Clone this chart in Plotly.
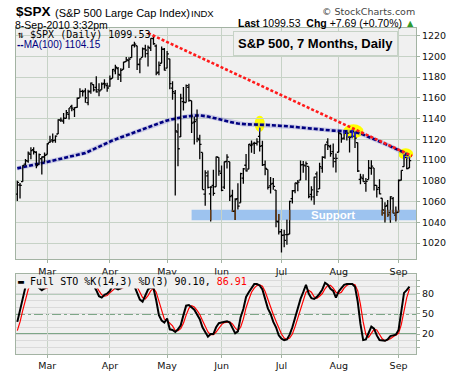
import math
import pandas as pd
import plotly.graph_objects as go

# ---------------- data ----------------
holidays = ["2010-02-15", "2010-04-02", "2010-05-31", "2010-07-05", "2010-09-06"]
dates = [d for d in pd.bdate_range("2010-02-11", "2010-09-08")
         if d.strftime("%Y-%m-%d") not in holidays]

opens = [1067.10, 1075.95, 1079.13, 1096.14, 1099.03, 1105.49, 1110.00, 1107.49, 1095.89, 1101.24, 1103.10,
         1105.36, 1117.01, 1119.36, 1119.12, 1125.12, 1138.40, 1137.56, 1140.22, 1143.96, 1151.71, 1148.53,
         1150.83, 1159.94, 1166.13, 1166.68, 1155.35, 1166.47, 1172.70, 1170.03, 1167.58, 1167.71, 1173.75, 1171.75,
         1171.23, 1178.71, 1186.01, 1188.23, 1181.75, 1187.47, 1194.94, 1195.94, 1198.69, 1210.77, 1210.17,
         1192.06, 1199.04, 1207.16, 1202.52, 1207.87, 1217.07, 1209.92, 1184.59, 1193.30, 1206.77,
         1188.58, 1197.50, 1169.24, 1164.38, 1127.04, 1122.27, 1156.39, 1155.43, 1170.04, 1157.19,
         1136.52, 1138.78, 1119.57, 1107.34, 1067.26, 1084.78, 1067.42, 1075.51, 1074.27, 1102.59,
         1087.30, 1073.89, 1098.82, 1098.43, 1065.84, 1050.81, 1062.75, 1058.77, 1082.65, 1095.00, 1091.21,
         1114.02, 1115.98, 1116.16, 1122.79, 1113.90, 1095.57, 1090.93, 1075.10, 1077.50, 1071.10, 1040.56,
         1031.10, 1027.65, 1028.09, 1028.54, 1062.92, 1070.50, 1077.23, 1080.65, 1095.61, 1094.46, 1093.85,
         1066.85, 1064.53, 1086.67, 1072.14, 1092.17, 1102.89, 1117.36, 1112.84, 1108.07, 1098.44,
         1107.53, 1125.34, 1121.06, 1125.78, 1122.07, 1122.80, 1122.92, 1116.89, 1081.48, 1082.22, 1077.49,
         1081.16, 1092.08, 1092.44, 1075.63, 1073.36, 1063.20, 1048.98, 1056.28, 1049.27, 1062.90, 1046.88,
         1049.72, 1080.66, 1093.61, 1102.60, 1092.36]
highs = [1080.04, 1077.81, 1095.06, 1101.03, 1108.24, 1112.42, 1112.29, 1108.58, 1106.42, 1103.50, 1107.24,
         1116.11, 1123.46, 1125.64, 1123.73, 1139.38, 1141.05, 1145.37, 1148.26, 1150.24, 1153.41, 1150.98,
         1160.28, 1169.20, 1167.77, 1169.20, 1167.82, 1174.72, 1173.04, 1180.69, 1173.93, 1174.85, 1177.83, 1174.56,
         1181.43, 1187.73, 1191.80, 1189.60, 1188.55, 1194.66, 1199.20, 1199.04, 1210.65, 1213.92, 1210.17,
         1197.87, 1208.58, 1210.99, 1210.27, 1217.28, 1219.80, 1211.38, 1195.05, 1209.36, 1207.99,
         1205.13, 1197.50, 1175.95, 1167.58, 1135.13, 1163.85, 1170.48, 1172.87, 1173.57, 1157.19,
         1141.88, 1148.66, 1124.27, 1107.34, 1090.16, 1089.95, 1074.75, 1090.75, 1103.52, 1102.59,
         1094.77, 1098.56, 1105.67, 1098.43, 1071.36, 1063.15, 1077.74, 1087.85, 1092.25, 1105.91, 1115.59,
         1118.74, 1117.72, 1121.01, 1131.23, 1118.50, 1099.64, 1090.93, 1083.56, 1082.60, 1071.10, 1048.08,
         1033.58, 1032.95, 1042.50, 1060.89, 1071.25, 1078.16, 1080.78, 1099.46, 1099.08, 1098.66, 1093.85,
         1074.70, 1083.94, 1088.96, 1097.50, 1103.73, 1115.01, 1120.95, 1114.66, 1115.90, 1106.44,
         1127.30, 1125.44, 1128.75, 1126.56, 1123.06, 1129.24, 1127.16, 1116.89, 1086.72, 1086.25, 1082.62,
         1100.14, 1099.77, 1092.44, 1075.63, 1081.58, 1063.20, 1059.38, 1061.45, 1065.21, 1064.40, 1055.14,
         1081.30, 1090.10, 1105.10, 1102.60, 1103.26]
lows = [1060.59, 1062.97, 1079.13, 1094.72, 1097.48, 1100.80, 1105.38, 1092.18, 1095.50, 1086.02, 1097.56,
        1105.36, 1116.51, 1116.58, 1116.66, 1125.12, 1136.77, 1134.90, 1140.09, 1138.99, 1146.97, 1141.45,
        1150.35, 1159.94, 1161.16, 1155.33, 1152.88, 1163.83, 1166.01, 1165.09, 1161.48, 1167.71, 1168.92, 1165.77,
        1170.69, 1178.71, 1182.77, 1177.25, 1175.12, 1187.15, 1194.71, 1188.82, 1198.69, 1208.50, 1186.77,
        1183.68, 1199.04, 1198.85, 1190.19, 1205.10, 1211.07, 1181.62, 1181.81, 1193.30, 1186.32,
        1188.58, 1168.12, 1158.15, 1065.79, 1094.15, 1122.27, 1147.71, 1155.43, 1156.14, 1126.14,
        1114.96, 1117.20, 1100.66, 1071.58, 1055.90, 1072.70, 1040.78, 1065.59, 1074.27, 1084.78,
        1069.89, 1072.03, 1091.81, 1060.50, 1049.86, 1042.17, 1052.25, 1058.77, 1077.12, 1089.03, 1091.21,
        1107.13, 1105.87, 1113.93, 1108.24, 1094.18, 1085.31, 1071.60, 1067.89, 1071.45, 1035.18, 1028.33,
        1010.91, 1015.93, 1018.35, 1028.54, 1058.24, 1068.10, 1069.99, 1080.65, 1087.68, 1080.53, 1063.32,
        1061.11, 1056.88, 1065.25, 1072.14, 1087.88, 1101.30, 1109.78, 1103.11, 1092.82, 1088.01,
        1107.53, 1116.76, 1119.46, 1118.81, 1107.17, 1120.91, 1111.58, 1088.55, 1076.69, 1079.00, 1069.49,
        1081.16, 1085.76, 1070.66, 1063.91, 1067.08, 1046.68, 1039.83, 1045.40, 1039.70, 1048.79, 1040.88,
        1049.72, 1080.39, 1093.61, 1091.15, 1092.36]
closes = [1078.47, 1075.51, 1094.87, 1099.51, 1106.75, 1109.17, 1108.01, 1094.60, 1105.24, 1102.94, 1104.49,
          1115.71, 1118.31, 1118.79, 1122.97, 1138.70, 1138.50, 1140.45, 1145.61, 1150.24, 1149.99, 1150.51,
          1159.46, 1166.21, 1165.83, 1159.90, 1165.81, 1174.17, 1167.72, 1165.73, 1166.59, 1173.22, 1173.27, 1169.43,
          1178.10, 1187.44, 1189.44, 1182.45, 1186.44, 1194.37, 1196.48, 1197.30, 1210.65, 1211.67, 1192.13,
          1197.52, 1207.17, 1205.94, 1208.67, 1217.28, 1212.05, 1183.71, 1191.36, 1206.78, 1186.69,
          1202.26, 1173.60, 1165.90, 1128.15, 1110.88, 1159.73, 1155.79, 1171.67, 1157.44, 1135.68,
          1136.94, 1120.80, 1115.05, 1071.59, 1087.69, 1073.65, 1074.03, 1067.95, 1103.06, 1089.41,
          1070.71, 1098.38, 1102.83, 1064.88, 1050.47, 1062.00, 1055.69, 1086.84, 1091.60, 1089.63, 1115.23,
          1114.61, 1116.04, 1117.51, 1113.20, 1095.31, 1092.04, 1073.69, 1076.76, 1074.57, 1041.24, 1030.71,
          1027.37, 1022.58, 1028.06, 1060.27, 1070.25, 1077.96, 1078.75, 1095.34, 1095.17, 1096.48, 1064.88,
          1071.25, 1083.48, 1069.59, 1093.67, 1102.66, 1115.01, 1113.84, 1106.13, 1101.53, 1101.60,
          1125.86, 1120.46, 1127.24, 1125.81, 1121.64, 1127.79, 1121.06, 1089.47, 1083.61, 1079.25, 1079.38,
          1092.54, 1094.16, 1075.63, 1071.69, 1067.36, 1051.87, 1055.33, 1047.22, 1064.59, 1048.92, 1049.33,
          1080.29, 1090.10, 1104.51, 1091.84, 1099.53]

ma100 = [1092.0, 1092.5, 1093.0, 1093.5, 1094.0, 1094.6, 1095.2, 1095.8, 1096.4, 1097.0, 1097.6,
         1098.2, 1098.8, 1099.4, 1100.0, 1100.6, 1101.2, 1101.8, 1102.4, 1103.0, 1103.6, 1104.2, 1104.8, 1105.4, 1106.0, 1106.8,
         1108.0, 1109.3, 1110.6, 1111.9, 1113.1, 1114.3, 1115.5, 1116.7, 1117.9,
         1118.9, 1119.9, 1120.9, 1121.9, 1122.9, 1123.9, 1124.9, 1125.9, 1126.9, 1127.9, 1128.9, 1129.9, 1130.9,
         1131.9, 1132.9, 1133.9, 1134.8, 1135.7, 1136.5, 1137.3, 1138.1,
         1138.8, 1139.4, 1140.0, 1140.6, 1141.1, 1141.6, 1142.0, 1142.4, 1142.7, 1142.9,
         1143.0, 1143.0, 1142.8, 1142.4, 1141.9, 1141.3, 1140.6,
         1139.9, 1139.2, 1138.5, 1137.8, 1137.2, 1136.6, 1136.1, 1135.6, 1135.2, 1134.8,
         1134.6, 1134.5, 1134.4, 1134.4, 1134.3, 1134.2, 1134.1, 1134.0, 1133.9, 1133.8, 1133.6, 1133.5, 1133.3,
         1133.2, 1133.0, 1132.8, 1132.7,
         1132.4, 1132.1, 1131.8, 1131.5, 1131.2, 1130.9, 1130.7, 1130.5, 1130.3, 1130.1, 1129.9, 1129.6, 1129.4,
         1129.1, 1128.9, 1128.6, 1128.4, 1128.1,
         1127.9, 1127.8, 1127.7, 1127.6, 1127.5, 1127.3, 1127.0,
         1126.4, 1125.6, 1124.6, 1123.4, 1122.2, 1121.1, 1120.1, 1119.0, 1117.9, 1116.8, 1115.7, 1114.5, 1113.3,
         1112.1, 1110.8, 1109.6, 1108.4, 1107.0, 1105.6, 1104.15]

sto_k = [38, 55, 72, 90, 97, 98, 96, 93, 88, 85, 88,
         92, 95, 97, 98, 99, 98, 97, 98, 99, 97, 96, 98, 97, 96, 97, 98, 96, 92, 85, 76, 74, 78, 80,
         84, 92, 88, 86, 88, 93, 97, 98, 96, 91, 82, 71, 68, 78, 86, 89, 88, 70, 48, 40, 37,
         43, 27, 26, 23, 27, 33, 48, 62, 63, 60, 56, 49, 42, 30, 22, 16, 20, 20, 30, 36,
         37, 38, 39, 37, 30, 21, 24, 45, 57, 75, 82, 88, 94, 94, 92, 86, 70, 58, 50, 38, 30, 18,
         13, 11, 12, 19, 30, 45, 58, 72, 82, 93, 80, 73, 72, 75, 80, 86, 96, 93, 87, 84, 74,
         83, 88, 93, 94, 94, 94, 90, 68, 35, 11, 12, 22, 31, 28, 18, 11, 10, 10, 12, 17, 18, 19,
         26, 56, 81, 85, 90.10]
sto_d = [25, 38, 55, 72, 86, 95, 97, 96, 92, 89, 87,
         88, 92, 95, 97, 98, 98, 98, 98, 98, 98, 97, 97, 97, 97, 97, 97, 97, 95, 91, 84, 78, 76, 77,
         81, 85, 88, 89, 87, 89, 93, 96, 97, 95, 90, 81, 74, 72, 77, 84, 88, 82, 69, 53, 42,
         40, 36, 32, 25, 25, 28, 36, 48, 58, 62, 60, 55, 49, 40, 31, 23, 19, 19, 23, 29,
         34, 37, 38, 38, 35, 29, 25, 30, 42, 59, 71, 82, 88, 92, 93, 91, 83, 71, 59, 49, 39, 29,
         20, 14, 12, 14, 20, 31, 44, 58, 71, 82, 85, 82, 75, 73, 76, 80, 87, 92, 92, 88, 82,
         80, 82, 88, 92, 94, 94, 93, 84, 64, 38, 19, 15, 22, 27, 26, 19, 13, 10, 11, 13, 16, 18,
         21, 34, 54, 74, 86.91]

# resistance trendline (two anchor points: bar index, price)
trend_x = [48, 145]
trend_y = [1222.3, 1103.9]

# support zone
support_start = 64
support_lo, support_hi = 1042, 1052

# highlighter marks: (bar index, price, width px, height px)
highlights = [(89, 1135.0, 10, 16), (123.4, 1127.8, 20, 14), (142.6, 1106.0, 15, 11)]

# ---------------- geometry ----------------
W, H = 460, 383
L, R, T, B = 16, 416, 28, 366          # panel edges in pixels
XR = [-0.48, 146.4]
YR = [1004.2, 1227.25]
SR = [-9.6, 108.6]
PX_PER_IDX = (R - L) / (XR[1] - XR[0])
PX_PER_PT = (268 - 28) / (YR[1] - YR[0])


def X(px):
    return (px - L) / (R - L)


def Y(py):
    return (B - py) / (B - T)


idx = list(range(len(closes)))
month_idx, month_txt = [], []
for i, d in enumerate(dates):
    if i > 0 and d.month != dates[i - 1].month:
        month_idx.append(i)
        month_txt.append(d.strftime("%b"))

GRID = "#c6d2c6"
BORDER = "#a3b3a3"
BG = "#f0f0f0"
TICKFONT = dict(family="DejaVu Sans", size=9.5, color="#111")

fig = go.Figure()

# MA(100): halo + dashed line
fig.add_trace(go.Scatter(x=idx, y=ma100, mode="lines", xaxis="x2", yaxis="y2",
                         line=dict(color="rgba(90,90,200,0.25)", width=4.5), hoverinfo="skip"))
fig.add_trace(go.Scatter(x=idx, y=ma100, mode="lines", xaxis="x2", yaxis="y2",
                         line=dict(color="#000080", width=2.6, dash="4px,2px"), hoverinfo="skip"))

# price bars (HLC with open tick)
TK = 0.65
bx, by = [], []
for i, (o, h, l, c) in enumerate(zip(opens, highs, lows, closes)):
    bx += [i, i, None, i - TK, i, None, i, i + TK, None]
    by += [h, l, None, o, o, None, c, c, None]
fig.add_trace(go.Scatter(x=bx, y=by, mode="lines", xaxis="x2", yaxis="y2",
                         line=dict(color="black", width=1.3), hoverinfo="skip"))

# colour shift of bar parts inside the support zone
sx, sy = [], []
for i, (h, l) in enumerate(zip(highs, lows)):
    if i >= support_start and l < support_hi and h > support_lo:
        sx += [i, i, None]
        sy += [min(h, support_hi), max(l, support_lo), None]
fig.add_trace(go.Scatter(x=sx, y=sy, mode="lines", xaxis="x2", yaxis="y2",
                         line=dict(color="#6a3c12", width=1.3), hoverinfo="skip"))

# colour shift of bar parts inside highlighter marks
hx, hy = [], []
for (cx, cy, wpx, hpx) in highlights:
    for i, (h, l) in enumerate(zip(highs, lows)):
        dx = (i - cx) * PX_PER_IDX
        if abs(dx) < wpx / 2:
            half = (hpx / 2) * math.sqrt(1 - (2 * dx / wpx) ** 2) / PX_PER_PT
            top, bot = min(h, cy + half), max(l, cy - half)
            if top > bot:
                hx += [i, i, None]
                hy += [top, bot, None]
fig.add_trace(go.Scatter(x=hx, y=hy, mode="lines", xaxis="x2", yaxis="y2",
                         line=dict(color="#1a1aff", width=1.3), hoverinfo="skip"))

# resistance trendline
fig.add_trace(go.Scatter(x=trend_x, y=trend_y, mode="lines", xaxis="x2", yaxis="y2",
                         line=dict(color="#ff1a1a", width=2.6, dash="3px,2px"), hoverinfo="skip"))

# stochastics
fig.add_trace(go.Scatter(x=idx, y=sto_d, mode="lines", xaxis="x", yaxis="y",
                         line=dict(color="red", width=1.2), hoverinfo="skip"))
fig.add_trace(go.Scatter(x=idx, y=sto_k, mode="lines", xaxis="x", yaxis="y",
                         line=dict(color="black", width=2.0), hoverinfo="skip"))

shapes = []
shapes.append(dict(type="rect", xref="x2", yref="y2", x0=support_start, x1=XR[1],
                   y0=support_lo, y1=support_hi, fillcolor="#9dc3ef", line=dict(width=0), layer="below"))
for (cx, cy, wpx, hpx) in highlights:
    shapes.append(dict(type="circle", xref="x2", yref="y2", xsizemode="pixel", ysizemode="pixel",
                       xanchor=cx, yanchor=cy, x0=-wpx / 2, x1=wpx / 2, y0=-hpx / 2, y1=hpx / 2,
                       fillcolor="#ffff00", line=dict(width=0), layer="below"))
for lvl, dash in [(80, "solid"), (20, "solid"), (50, "dashdot")]:
    shapes.append(dict(type="line", xref="paper", yref="y", x0=0, x1=1, y0=lvl, y1=lvl,
                       line=dict(color="#0b5d1e", width=1.3, dash=dash), layer="below"))

ann = []
ann.append(dict(x=X(15), y=Y(11), xref="paper", yref="paper", xanchor="left", yanchor="middle",
                text="<b>$SPX</b>", showarrow=False, borderpad=0,
                font=dict(family="Liberation Sans", size=13.5, color="black")))
ann.append(dict(x=X(54), y=Y(12.5), xref="paper", yref="paper", xanchor="left", yanchor="middle",
                text="(S&P 500 Large Cap Index)", showarrow=False, borderpad=0,
                font=dict(family="Liberation Sans", size=11, color="black")))
ann.append(dict(x=X(190), y=Y(12.5), xref="paper", yref="paper", xanchor="left", yanchor="middle",
                text="INDX", showarrow=False, borderpad=0,
                font=dict(family="Liberation Sans", size=9.5, color="black")))
ann.append(dict(x=X(14), y=Y(24.5), xref="paper", yref="paper", xanchor="left", yanchor="middle",
                text="8-Sep-2010 3:32pm", showarrow=False, borderpad=0,
                font=dict(family="Liberation Sans", size=10.5, color="black")))
ann.append(dict(x=X(416), y=Y(11), xref="paper", yref="paper", xanchor="right", yanchor="middle",
                text="© StockCharts.com", showarrow=False, borderpad=0,
                font=dict(family="DejaVu Sans", size=9.5, color="#444")))
ann.append(dict(x=X(416), y=Y(23), xref="paper", yref="paper", xanchor="right", yanchor="middle",
                text="<b>Last</b> 1099.53  <b>Chg</b> +7.69 (+0.70%) <span style='color:#2e9a2e'>▲</span>",
                showarrow=False, borderpad=0, font=dict(family="Liberation Sans", size=10.5, color="black")))
ann.append(dict(x=X(315.5), y=Y(44), xref="paper", yref="paper", xanchor="center", yanchor="middle",
                text="<b>S&P 500, 7 Months, Daily</b>", showarrow=False, bgcolor=BG,
                bordercolor="#c6d2c6", borderwidth=1, borderpad=4,
                font=dict(family="Liberation Sans", size=13, color="black")))
ann.append(dict(x=X(16), y=Y(34.5), xref="paper", yref="paper", xanchor="left", yanchor="middle",
                text="⇅ $SPX (Daily) 1099.53", showarrow=False, borderpad=0,
                font=dict(family="DejaVu Sans Mono", size=10, color="black")))
ann.append(dict(x=X(16), y=Y(45.5), xref="paper", yref="paper", xanchor="left", yanchor="middle",
                text="<b>--</b>MA(100) 1104.15", showarrow=False, borderpad=0,
                font=dict(family="Liberation Sans", size=10, color="#000080")))
ann.append(dict(x=X(16), y=Y(283.5), xref="paper", yref="paper", xanchor="left", yanchor="top",
                text="<b>▬</b> Full STO %K(14,3) %D(3) 90.10, <span style='color:red'>86.91</span>",
                showarrow=False, bgcolor=BG, borderpad=1,
                font=dict(family="DejaVu Sans Mono", size=10, color="black")))
ann.append(dict(x=115.9, y=(support_lo + support_hi) / 2, xref="x2", yref="y2",
                xanchor="center", yanchor="middle", text="<b>Support</b>", showarrow=False,
                font=dict(family="Liberation Sans", size=11.5, color="white")))

common_x = dict(range=XR, tickmode="array", tickvals=month_idx, ticktext=month_txt,
                showgrid=True, gridcolor=GRID, gridwidth=1, zeroline=False,
                showline=True, mirror=True, linecolor=BORDER, linewidth=1,
                ticks="outside", ticklen=3, tickcolor=BORDER, tickfont=TICKFONT, fixedrange=True)

sto_ticks = list(range(0, 101, 10))
fig.update_layout(
    width=W, height=H,
    margin=dict(l=L, r=W - R, t=T, b=H - B, pad=0),
    paper_bgcolor="white", plot_bgcolor=BG, showlegend=False, hovermode=False,
    xaxis=dict(domain=[0, 1], anchor="y", **common_x),
    xaxis2=dict(domain=[0, 1], anchor="y2", **common_x),
    yaxis=dict(domain=[0, Y(283.3)], anchor="x", side="right", range=SR,
               tickmode="array", tickvals=sto_ticks,
               ticktext=[str(v) if v in (20, 50, 80) else "" for v in sto_ticks],
               showgrid=True, gridcolor="#dadada", zeroline=False,
               showline=True, mirror=True, linecolor=BORDER, ticks="outside", ticklen=3,
               tickcolor=BORDER, tickfont=TICKFONT, fixedrange=True),
    yaxis2=dict(domain=[Y(268), 1], anchor="x2", side="right", range=YR,
                tick0=1020, dtick=20, showgrid=True, gridcolor=GRID, zeroline=False,
                showline=True, mirror=True, linecolor=BORDER, ticks="outside", ticklen=3,
                tickcolor=BORDER, tickfont=TICKFONT, fixedrange=True),
    shapes=shapes, annotations=ann,
)

fig.write_html("out.html", config={"displayModeBar": False},
               post_script="document.body.style.margin='0px';document.body.style.overflow='hidden';")
